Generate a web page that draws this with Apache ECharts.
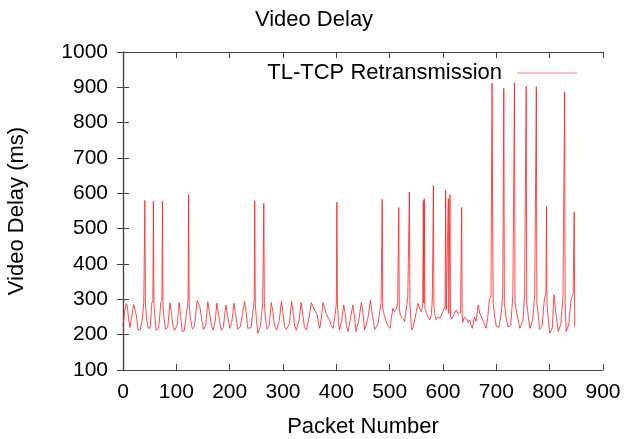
<!DOCTYPE html>
<html>
<head>
<meta charset="utf-8">
<title>Video Delay</title>
<script src="https://cdn.jsdelivr.net/npm/echarts@6/dist/echarts.min.js"></script>
<style>
html, body { margin: 0; padding: 0; background: #fff; }
#chart { width: 628px; height: 439px; }
</style>
</head>
<body>
<div id="chart"></div>
<script>
// packet number / delay pairs (peaks, troughs, spikes)
var packetIds = [
    0, 3, 6, 8, 10, 13, 16, 20, 22, 25, 28, 32, 36, 39, 40, 41, 42, 44, 47, 51,
    54, 56, 57, 58, 60, 62, 67, 71, 73, 74, 75, 77, 80, 84, 88, 89, 91, 94, 97, 102,
    105, 107, 111, 115, 119, 122, 123, 124, 126, 130, 134, 139, 144, 148, 151, 155, 159, 162, 166, 169,
    173, 176, 179, 184, 188, 193, 196, 200, 204, 208, 211, 215, 220, 224, 228, 231, 234, 240, 246, 247,
    248, 250, 253, 258, 262, 264, 265, 267, 270, 274, 278, 281, 284, 288, 293, 297, 300, 303, 306, 312,
    316, 319, 322, 325, 330, 334, 337, 340, 344, 349, 353, 356, 359, 362, 364, 367, 369, 372, 375, 378,
    381, 384, 387, 390, 394, 398, 400, 401, 402, 404, 406, 410, 414, 417, 419, 422, 427, 431, 434, 437,
    442, 447, 450, 453, 459, 464, 467, 472, 478, 484, 486, 487, 490, 493, 497, 501, 503, 506, 509, 512,
    515, 517, 518, 520, 522, 525, 528, 531, 534, 537, 538, 540, 541, 544, 547, 550, 553, 556, 559, 562,
    563, 564, 565, 566, 569, 572, 575, 578, 580, 582, 583, 585, 587, 590, 594, 597, 601, 604, 605, 606,
    608, 610, 611, 613, 614, 616, 619, 622, 625, 628, 631, 633, 635, 636, 637, 640, 644, 647, 650, 653,
    655, 659, 662, 666, 669, 672, 675, 678, 681, 684, 687, 690, 692, 693, 694, 697, 700, 705, 709, 712,
    714, 715, 718, 722, 727, 731, 734, 735, 739, 744, 750, 753, 756, 757, 760, 763, 768, 772, 775, 776,
    779, 781, 786, 790, 793, 794, 795, 797, 800, 805, 808, 811, 816, 821, 825, 828, 829, 831, 836, 840,
    844, 846, 847
];
var delayMs = [
    225, 265, 288, 282, 250, 220, 218, 285, 290, 255, 215, 213, 240, 292, 296, 580, 290, 250, 218, 220,
    290, 296, 578, 288, 245, 213, 218, 292, 298, 578, 285, 245, 215, 222, 290, 294, 260, 222, 212, 230,
    291, 270, 209, 212, 260, 296, 596, 290, 250, 216, 222, 296, 280, 240, 215, 225, 293, 265, 225, 213,
    240, 289, 260, 213, 220, 284, 255, 218, 235, 289, 260, 216, 222, 260, 294, 262, 218, 220, 296, 579,
    290, 245, 204, 225, 294, 572, 288, 250, 216, 225, 291, 265, 225, 213, 240, 294, 260, 222, 215, 230,
    294, 265, 225, 213, 240, 291, 260, 222, 213, 250, 291, 280, 270, 262, 256, 230, 218, 250, 291, 275,
    260, 250, 242, 228, 218, 260, 289, 575, 285, 240, 213, 240, 284, 255, 225, 209, 250, 284, 250, 209,
    240, 291, 260, 213, 245, 298, 260, 215, 230, 291, 583, 275, 255, 240, 223, 218, 245, 275, 265, 272,
    289, 560, 275, 255, 251, 245, 237, 270, 308, 604, 290, 240, 213, 220, 225, 265, 289, 275, 265, 285,
    580, 290, 585, 275, 260, 250, 242, 255, 300, 622, 280, 255, 242, 250, 247, 255, 270, 280, 609, 270,
    265, 585, 260, 596, 255, 245, 251, 262, 270, 260, 265, 262, 560, 255, 235, 250, 245, 235, 242, 225,
    218, 250, 238, 284, 260, 250, 255, 228, 218, 250, 300, 308, 912, 580, 290, 250, 223, 221, 260, 308,
    898, 290, 250, 221, 225, 313, 912, 290, 255, 218, 240, 317, 903, 290, 250, 218, 240, 315, 902, 290,
    250, 215, 225, 300, 317, 563, 290, 250, 204, 220, 313, 270, 209, 230, 313, 887, 290, 209, 230, 300,
    314, 548, 221
];
var seriesName = 'TL-TCP Retransmission';

var chartData = [];
for (var i = 0; i < packetIds.length; i++) {
    chartData.push([packetIds[i], delayMs[i]]);
}

var font = "'Liberation Sans', Arial, sans-serif";
var axisColor = '#444';
var lineColor = 'rgba(255, 30, 30, 0.8)';

var chart = echarts.init(document.getElementById('chart'));
var option = {
    animation: false,
    backgroundColor: '#fff',
    textStyle: { fontFamily: font },
    title: {
        text: 'Video Delay',
        left: 'center',
        top: 4,
        textStyle: { fontSize: 22, fontWeight: 'normal', color: '#000', fontFamily: font }
    },
    legend: {
        data: [{ name: seriesName, icon: 'rect' }],
        top: 57,
        right: 46,
        align: 'right',
        itemWidth: 60,
        itemHeight: 1,
        itemStyle: { color: 'rgba(255, 90, 90, 0.8)' },
        textStyle: { fontSize: 22, color: '#000', fontFamily: font, padding: [0, 10, 0, 0] }
    },
    // keep the plot box where it is, names sit outside it
    grid: { left: 123, right: 25, top: 52, bottom: 69, outerBoundsMode: 'none' },
    xAxis: [{
        type: 'value',
        min: 0,
        max: 900,
        interval: 100,
        position: 'bottom',
        name: 'Packet Number',
        nameLocation: 'middle',
        nameGap: 46,
        nameTextStyle: { fontSize: 22, color: '#000', fontFamily: font },
        axisLine: { lineStyle: { color: axisColor, width: 1.2 } },
        axisTick: { inside: true, length: 6, lineStyle: { color: axisColor } },
        axisLabel: { fontSize: 21, color: '#000', margin: 12, fontFamily: font },
        splitLine: { show: false }
    }, {
        type: 'value',
        min: 0,
        max: 900,
        interval: 100,
        position: 'top',
        axisLine: { lineStyle: { color: axisColor, width: 1.2 } },
        axisTick: { inside: true, length: 6, lineStyle: { color: axisColor } },
        axisLabel: { show: false },
        splitLine: { show: false }
    }],
    yAxis: [{
        type: 'value',
        min: 100,
        max: 1000,
        interval: 100,
        position: 'left',
        name: 'Video Delay (ms)',
        nameLocation: 'middle',
        nameGap: 95,
        nameTextStyle: { fontSize: 22, color: '#000', fontFamily: font },
        axisLine: { lineStyle: { color: axisColor, width: 1.2 } },
        axisTick: { inside: true, length: 6, lineStyle: { color: axisColor } },
        axisLabel: {
            fontSize: 21, color: '#000', margin: 15, fontFamily: font,
            formatter: function(v) { return String(v); }
        },
        splitLine: { show: false }
    }, {
        type: 'value',
        min: 100,
        max: 1000,
        interval: 100,
        position: 'right',
        axisLine: { show: true, lineStyle: { color: axisColor, width: 1.2 } },
        axisTick: { show: true, inside: true, length: 6, lineStyle: { color: axisColor } },
        axisLabel: { show: false },
        splitLine: { show: false }
    }],
    series: [{
        name: seriesName,
        type: 'line',
        xAxisIndex: 0,
        yAxisIndex: 0,
        symbol: 'none',
        data: chartData,
        lineStyle: { color: lineColor, width: 1 },
        itemStyle: { color: lineColor }
    }]
};
chart.setOption(option);
</script>
</body>
</html>
